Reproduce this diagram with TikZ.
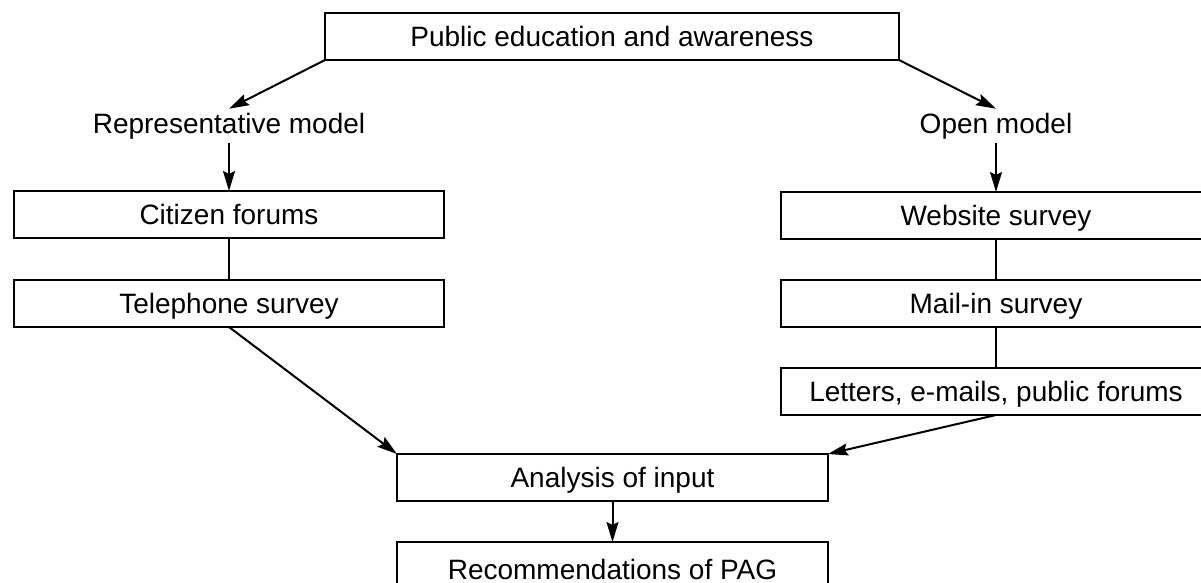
\documentclass[tikz,border=0pt]{standalone}
\usepackage{fontspec}
\setmainfont{Liberation Sans}
\usetikzlibrary{arrows.meta}
\begin{document}
\begin{tikzpicture}[x=1pt,y=-1pt,
  box/.style={draw,line width=1.5pt,minimum height=47pt,inner sep=0pt,outer sep=0pt,text height=20pt,text depth=0pt,font=\fontsize{28}{30}\selectfont},
  lbl/.style={inner sep=4pt,outer sep=0pt,font=\fontsize{28}{30}\selectfont},
  conn/.style={line width=2pt},
  arr/.style={conn,-{Stealth[length=20pt,width=12pt,inset=3pt]}}]
\useasboundingbox (0,0) rectangle (1201,583);
\clip (0,0) rectangle (1201,583);
\fill[white] (0,0) rectangle (1201,583);
\node[box,minimum width=574pt] (pub) at (612,36.5) {Public education and awareness};
\node[lbl,anchor=base] (rep) at (229,133) {Representative model};
\node[lbl,anchor=base] (open) at (996,133) {Open model};
\node[box,minimum width=430pt] (cit) at (229,214.5) {Citizen forums};
\node[box,minimum width=430pt] (tel) at (229,303.5) {Telephone survey};
\node[box,minimum width=430pt] (web) at (996,215.5) {Website survey};
\node[box,minimum width=430pt] (mail) at (996,303.5) {Mail-in survey};
\node[box,minimum width=430pt] (let) at (996,391.5) {Letters, e-mails, public forums};
\node[box,minimum width=431pt] (ana) at (612.5,477.5) {Analysis of input};
\node[box,minimum width=431pt,minimum height=54pt] (rec) at (612.5,569) {Recommendations of PAG};
\draw[arr] (pub.south west) -- (rep.north);
\draw[arr] (pub.south east) -- (open.north);
\draw[arr] (rep.south) -- (cit.north);
\draw[arr] (open.south) -- (web.north);
\draw[conn] (cit.south) -- (tel.north);
\draw[conn] (web.south) -- (mail.north);
\draw[conn] (mail.south) -- (let.north);
\draw[arr] (tel.south) -- (ana.north west);
\draw[arr] (let.south) -- (ana.north east);
\draw[arr] (ana.south) -- (rec.north);
\end{tikzpicture}
\end{document}
